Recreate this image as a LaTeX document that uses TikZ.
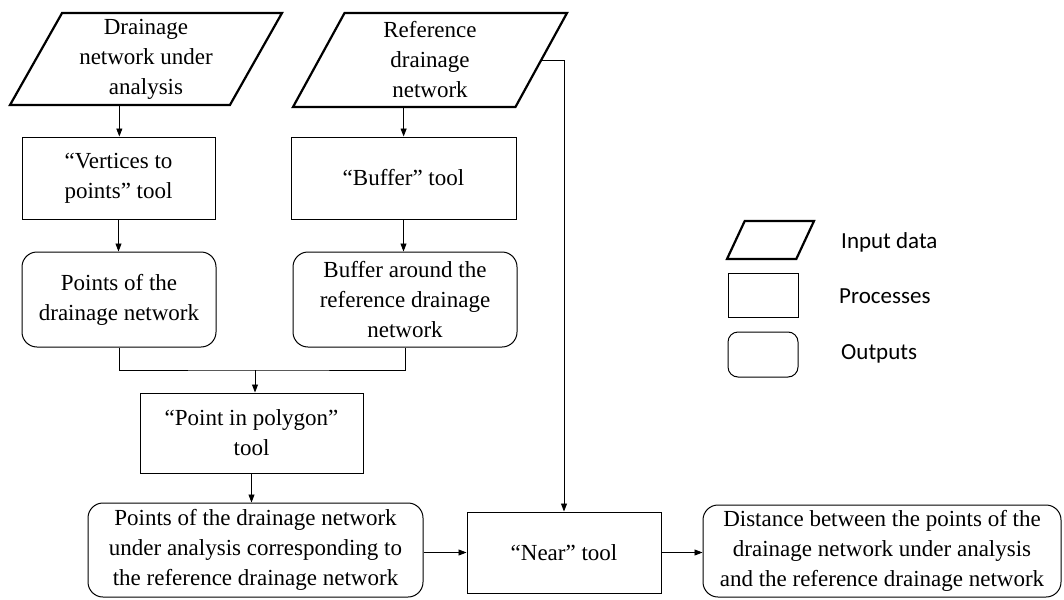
\documentclass[tikz,border=0pt]{standalone}
\usepackage{fontspec}
\setmainfont{Liberation Serif}
\newfontfamily\legendfont{Carlito}
\usetikzlibrary{shapes.geometric,arrows.meta}

\begin{document}
\begin{tikzpicture}[x=1pt,y=-1pt,
  every node/.style={inner sep=0pt, font=\fontsize{23}{30}\selectfont},
  inputbox/.style={trapezium, draw, line width=2.2pt, trapezium left angle=#1,
    trapezium right angle=180-#1, trapezium stretches body, align=center},
  inputbox/.default=57,
  procbox/.style={rectangle, draw, line width=1pt, align=center},
  outbox/.style={rectangle, rounded corners=15pt, draw, line width=1pt, align=center},
  flow/.style={line width=0.9pt, -{Triangle[length=8pt,width=6pt]}},
  link/.style={line width=0.9pt},
  legendtext/.style={anchor=west, font=\legendfont\fontsize{23}{28}\selectfont}
]
\useasboundingbox (0,0) rectangle (1064,599);

% input data
\node[inputbox=57, minimum width=272pt, minimum height=92pt] (in1) at (146,59)
  {Drainage\\network under\\analysis};
\node[inputbox=56, minimum width=274pt, minimum height=94pt] (in2) at (430,60)
  {Reference\\drainage\\network};

% processing chain
\node[procbox, minimum width=193pt, minimum height=82pt] (vtp) at (118.5,178)
  {“Vertices to\\points” tool};
\node[procbox, minimum width=225pt, minimum height=82pt] (buf) at (403.5,178)
  {“Buffer” tool};
\node[outbox, minimum width=194pt, minimum height=95pt] (pts) at (119,299.5)
  {Points of the\\drainage network};
\node[outbox, minimum width=224pt, minimum height=95pt] (bufout) at (405,299.5)
  {Buffer around the\\reference drainage\\network};
\node[procbox, minimum width=223pt, minimum height=80pt] (pip) at (251.5,433)
  {“Point in polygon”\\tool};
\node[outbox, minimum width=335pt, minimum height=94pt] (sel) at (255.5,550)
  {Points of the drainage network\\under analysis corresponding to\\the reference drainage network};
\node[procbox, minimum width=194pt, minimum height=81pt] (near) at (564,552.5)
  {“Near” tool};
\node[outbox, minimum width=358pt, minimum height=92pt] (dist) at (882,551)
  {Distance between the points of the\\drainage network under analysis\\and the reference drainage network};

% connectors
\draw[flow] (in1.bottom side) -- (in1.bottom side |- vtp.north);
\draw[flow] (in2.bottom side) -- (in2.bottom side |- buf.north);
\draw[flow] (vtp.south) -- (vtp.south |- pts.north);
\draw[flow] (buf.south) -- (buf.south |- bufout.north);
\coordinate (join) at (255,370);
\draw[link] (pts.south) |- (join) -| (bufout.south);
\draw[flow] (join) -- (join |- pip.north);
\draw[flow] (pip.south) -- (pip.south |- sel.north);
\draw[flow] (near.west -| sel.east) -- (near.west);
\draw[flow] (near.east) -- (near.east -| dist.west);
\draw[flow] (in2.right side) -- (near.north |- in2.right side) -- (near.north);

% legend
\node[inputbox=65, minimum width=87pt, minimum height=38pt] (leg1) at (770.5,240)
  {\rule{0pt}{38pt}};
\node[procbox, minimum width=70pt, minimum height=44pt] (leg2) at (763,295) {};
\node[outbox, rounded corners=10pt, minimum width=70pt, minimum height=45pt] (leg3) at (763,354.5) {};
\node[legendtext] (leg1t) at (841,242) {Input data};
\node[legendtext] (leg2t) at (839,296) {Processes};
\node[legendtext] (leg3t) at (841,354) {Outputs};
\end{tikzpicture}
\end{document}
